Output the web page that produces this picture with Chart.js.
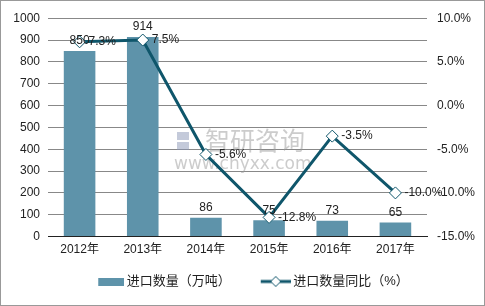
<!DOCTYPE html>
<html>
<head>
<meta charset="utf-8">
<script src="https://cdn.jsdelivr.net/npm/chart.js@4.4.0/dist/chart.umd.min.js"></script>
<style>
  html, body { margin: 0; padding: 0; background: #fff; }
  #wrap { width: 485px; height: 306px; position: relative; box-sizing: border-box; border: 1px solid #999; }
</style>
</head>
<body>
<div id="wrap"><canvas id="myChart" width="483" height="304"></canvas></div>
<script>
const years = ["2012年", "2013年", "2014年", "2015年", "2016年", "2017年"];
const importQty = [850, 914, 86, 75, 73, 65];
const importYoY = [7.3, 7.5, -5.6, -12.8, -3.5, -10.0];
const leftTicks = [0, 1000, 100];
const rightTicks = [-15, 10, 5];

const barColor = "#5e93aa";
const lineColor = "#0f566b";
const cjk = "'Liberation Sans', Arial, 'Noto Sans CJK SC', sans-serif";
const swBox = 44;   // legend box width
const swW = 52;     // swatch canvas, wider so it reaches close to the text

// legend swatches (blank on the left gives the gap between items)
function swatchBar() {
    const c = document.createElement("canvas");
    c.width = swW; c.height = 8;
    const g = c.getContext("2d");
    g.fillStyle = barColor;
    g.fillRect(swW - 26, 0, 26, 8);
    return c;
}
function swatchLine() {
    const c = document.createElement("canvas");
    c.width = swW; c.height = 12;
    const g = c.getContext("2d");
    const x0 = swW - 30;
    g.strokeStyle = lineColor;
    g.lineWidth = 3;
    g.beginPath(); g.moveTo(x0, 6); g.lineTo(swW, 6); g.stroke();
    g.fillStyle = "#fff";
    g.lineWidth = 1;
    const cx = x0 + 15;
    g.beginPath();
    g.moveTo(cx, 1); g.lineTo(cx + 5, 6); g.lineTo(cx, 11); g.lineTo(cx - 5, 6); g.closePath();
    g.fill(); g.stroke();
    return c;
}

const valueLabels = {
    id: "valueLabels",
    afterDatasetsDraw(chart) {
        const ctx = chart.ctx;
        ctx.save();
        ctx.font = "12px " + cjk;
        ctx.fillStyle = "#222";
        // bar labels
        chart.getDatasetMeta(0).data.forEach((el, i) => {
            ctx.textAlign = "center";
            ctx.textBaseline = "bottom";
            ctx.fillText(String(importQty[i]), el.x, el.y - 4);
        });
        // line labels
        chart.getDatasetMeta(1).data.forEach((el, i) => {
            ctx.textAlign = "left";
            ctx.textBaseline = "middle";
            ctx.fillText(importYoY[i].toFixed(1) + "%", el.x + 9, el.y);
        });
        ctx.restore();
    }
};

const watermark = {
    id: "watermark",
    beforeDatasetsDraw(chart) {
        const ctx = chart.ctx;
        ctx.save();
        ctx.globalAlpha = 0.5;
        ctx.fillStyle = "#8a95b5";
        ctx.fillRect(176, 131, 12, 8);
        ctx.fillRect(176, 141, 12, 8);
        ctx.fillStyle = "#999";
        ctx.font = "25px 'Noto Sans CJK SC', sans-serif";
        ctx.textBaseline = "middle";
        ctx.textAlign = "left";
        ctx.fillText("智研咨询", 204, 139);
        ctx.font = "17px 'DejaVu Sans', sans-serif";
        ctx.fillText("www.chyxx.com", 173, 164);
        ctx.restore();
    }
};

const ctx = document.getElementById("myChart").getContext("2d");
const myChart = new Chart(ctx, {
    data: {
        labels: years,
        datasets: [
            {
                type: "bar",
                label: "进口数量（万吨）",
                data: importQty,
                backgroundColor: barColor,
                borderWidth: 0,
                barPercentage: 0.5,
                categoryPercentage: 1,
                yAxisID: "y",
                order: 2,
            },
            {
                type: "line",
                label: "进口数量同比（%）",
                data: importYoY,
                borderColor: lineColor,
                borderWidth: 3,
                pointStyle: "rectRot",
                pointRadius: 6,
                pointBorderWidth: 1,
                pointBackgroundColor: "#fff",
                pointBorderColor: lineColor,
                tension: 0,
                yAxisID: "y1",
                order: 1,
            },
        ],
    },
    options: {
        responsive: false,
        animation: false,
        layout: { padding: { top: 10, left: 0, right: 0, bottom: 7 } },
        plugins: {
            tooltip: { enabled: false },
            legend: {
                position: "bottom",
                labels: {
                    usePointStyle: true,
                    pointStyleWidth: swBox,
                    font: { size: 13, family: cjk },
                    color: "#222",
                    padding: 12,
                    generateLabels(chart) {
                        return chart.data.datasets.map((ds, i) => ({
                            text: ds.label,
                            pointStyle: i === 0 ? swatchBar() : swatchLine(),
                            datasetIndex: i,
                            fontColor: "#222",
                            hidden: false,
                            lineWidth: 0,
                        }));
                    },
                },
            },
        },
        scales: {
            x: {
                grid: { display: false, drawTicks: false },
                border: { color: "#222", width: 1 },
                ticks: { font: { size: 12, family: cjk }, color: "#222", padding: 6 },
            },
            y: {
                position: "left",
                min: leftTicks[0], max: leftTicks[1],
                ticks: {
                    stepSize: leftTicks[2], font: { size: 12, family: cjk }, color: "#222", padding: 8,
                    callback: v => String(v),
                },
                grid: { color: "#888", drawTicks: false },
                border: { display: false },
                afterFit(s) { s.width = 47; },
            },
            y1: {
                position: "right",
                min: rightTicks[0], max: rightTicks[1],
                ticks: {
                    stepSize: rightTicks[2],
                    font: { size: 12, family: cjk }, color: "#222", padding: 10,
                    callback: v => v.toFixed(1) + "%",
                },
                grid: { display: false, drawTicks: false },
                border: { display: false },
                afterFit(s) { s.width = 57; },
            },
        },
    },
    plugins: [watermark, valueLabels],
});
</script>
</body>
</html>
